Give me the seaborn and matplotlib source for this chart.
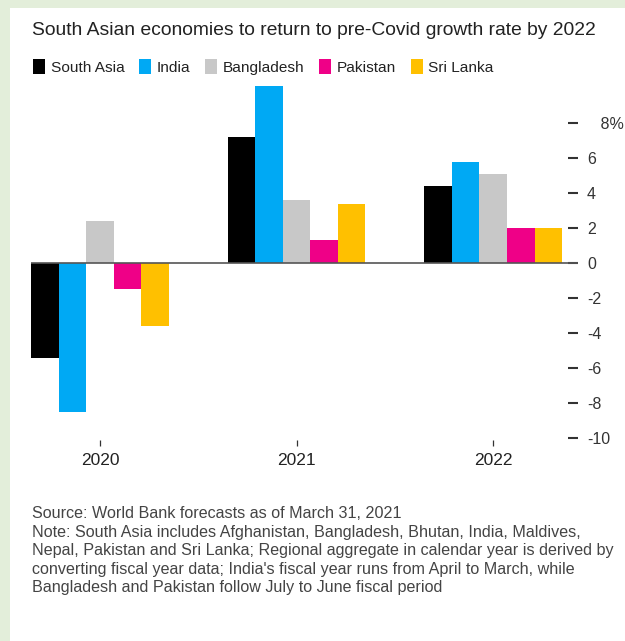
import matplotlib
matplotlib.use("Agg")
import matplotlib.pyplot as plt
from matplotlib.patches import Rectangle
import pandas as pd
import seaborn as sns

# GDP growth forecasts (%), World Bank, March 2021
years = ["2020", "2021", "2022"]
regions = ["South Asia", "India", "Bangladesh", "Pakistan", "Sri Lanka"]
south_asia = [-5.4, 7.2, 4.4]
india = [-8.5, 10.1, 5.8]
bangladesh = [2.4, 3.6, 5.1]
pakistan = [-1.5, 1.3, 2.0]
sri_lanka = [-3.6, 3.4, 2.0]
y_ticks = [-10, -8, -6, -4, -2, 0, 2, 4, 6, 8]
y_tick_labels = ["-10", "-8", "-6", "-4", "-2", "0", "2", "4", "6", "   8%"]

colors = ["#000000", "#00a9f4", "#c8c8c8", "#ef0087", "#ffc000"]

series = [south_asia, india, bangladesh, pakistan, sri_lanka]
df = pd.DataFrame(
    [(yr, reg, vals[i]) for reg, vals in zip(regions, series) for i, yr in enumerate(years)],
    columns=["year", "region", "growth"],
)

sns.set_theme(style="white")
plt.rcParams["font.family"] = ["Liberation Sans", "DejaVu Sans"]

W, H = 625, 641
fig = plt.figure(figsize=(W / 100, H / 100), dpi=100, facecolor="white")

# light green frame on the left and top edges
green = "#e3eeda"
fig.add_artist(Rectangle((0, 0), 10 / W, 1, transform=fig.transFigure,
                         facecolor=green, edgecolor="none", zorder=-5))
fig.add_artist(Rectangle((0, 1 - 8 / H), 1, 8 / H, transform=fig.transFigure,
                         facecolor=green, edgecolor="none", zorder=-5))

left_px, right_px, top_px, bottom_px = 31.2, 578, 85.4, 440
ax = fig.add_axes([left_px / W, 1 - bottom_px / H,
                   (right_px - left_px) / W, (bottom_px - top_px) / H])
ax.set_facecolor("none")

sns.barplot(data=df, x="year", y="growth", hue="region", order=years,
            hue_order=regions, palette=colors, width=0.7, saturation=1,
            errorbar=None, linewidth=0, edgecolor="none", ax=ax)

ax.set_xlim(-0.35, 2.431)
ax.set_ylim(-10.11, 10.15)
ax.axhline(0, color="#555555", lw=1.2, zorder=5)

for s in ax.spines.values():
    s.set_visible(False)

ax.set_xlabel("")
ax.set_ylabel("")
ax.yaxis.tick_right()
ax.set_yticks(y_ticks)
ax.set_yticklabels(y_tick_labels)
ax.tick_params(axis="y", which="both", direction="in", length=7.2, width=1.5,
               color="#333333", labelcolor="#333333", pad=6.5, labelsize=11.5,
               right=True, left=False)
ax.tick_params(axis="x", direction="out", length=4.3, width=0.9,
               color="#333333", labelcolor="#222222", pad=5, labelsize=12.5,
               bottom=True)

handles, labels = ax.get_legend_handles_labels()
ax.get_legend().remove()
fig.legend(handles, labels, ncol=5, loc="center left",
           bbox_to_anchor=(33 / W, 1 - 67 / H), bbox_transform=fig.transFigure,
           frameon=False, fontsize=11.1, handlelength=0.8, handleheight=1.05,
           handletextpad=0.35, columnspacing=0.95, borderpad=0, borderaxespad=0,
           labelcolor="#222222")

fig.text(32 / W, 1 - 35 / H,
         "South Asian economies to return to pre-Covid growth rate by 2022",
         fontsize=13.9, color="#222222", va="baseline", ha="left")

notes = [
    "Source: World Bank forecasts as of March 31, 2021",
    "Note: South Asia includes Afghanistan, Bangladesh, Bhutan, India, Maldives,",
    "Nepal, Pakistan and Sri Lanka; Regional aggregate in calendar year is derived by",
    "converting fiscal year data; India's fiscal year runs from April to March, while",
    "Bangladesh and Pakistan follow July to June fiscal period",
]
for i, line in enumerate(notes):
    fig.text(32 / W, 1 - (518 + i * 18.6) / H, line, fontsize=11.6,
             color="#444444", va="baseline", ha="left")

fig.savefig("out.png", dpi=100, facecolor="white")
